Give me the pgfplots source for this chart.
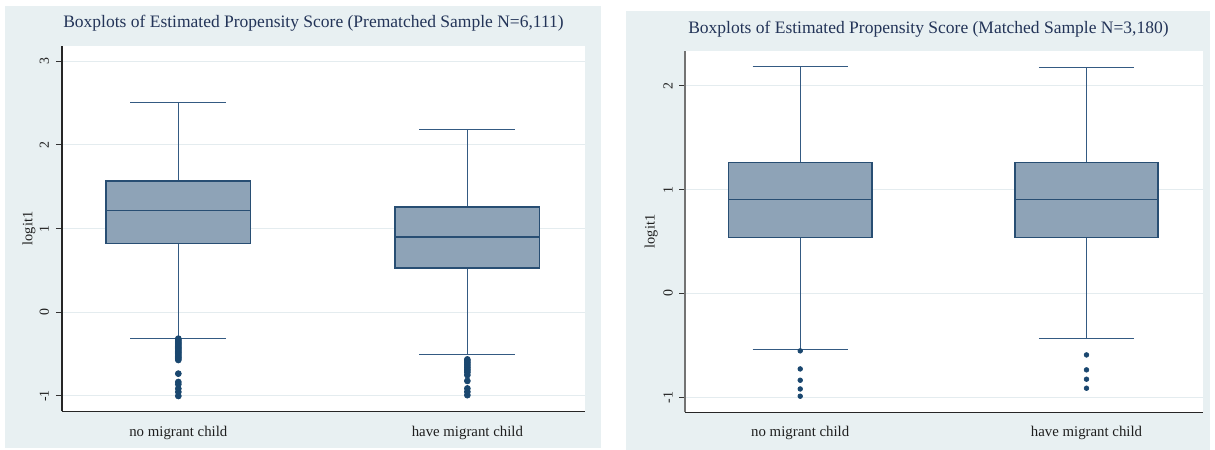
\documentclass[border=0pt]{standalone}
\usepackage{fontspec}
\setmainfont{Liberation Serif}
\usepackage{pgfplots}
\pgfplotsset{compat=1.18}
\usepgfplotslibrary{statistics}
\definecolor{panelbg}{RGB}{232,240,242}
\definecolor{gridc}{RGB}{228,236,239}
\definecolor{boxfill}{RGB}{142,163,183}
\definecolor{boxedge}{RGB}{40,78,115}
\definecolor{whisk}{RGB}{52,90,130}
\definecolor{mk}{RGB}{26,71,111}
\definecolor{titlec}{RGB}{35,52,88}
\definecolor{txt}{RGB}{30,30,30}
\pgfplotsset{
  stbox/.style={
    scale only axis,
    anchor=south west,
    axis background/.style={fill=white},
    axis x line*=bottom, axis y line*=left,
    x axis line style={line width=0.9pt, draw=black!85},
    xmin=0.5975, xmax=2.407,
    xtick={1,2},
    xticklabels={no migrant child, have migrant child},
    xtick style={draw=none},
    xticklabel style={anchor=base, font=\fontsize{8.9}{10}\selectfont, text=txt},
    ytick style={line width=0.6pt, draw=black!80},
    tick align=outside,
    major tick length=3.6pt,
    yticklabel style={rotate=90, anchor=center, font=\fontsize{8.3}{10}\selectfont, text=txt},
    /pgf/number format/assume math mode=true,
    ymajorgrids,
    major grid style={draw=gridc, line width=0.6pt},
    ylabel={logit1},
    ylabel style={rotate=0, anchor=center, font=\fontsize{8.6}{10}\selectfont, text=txt},
    title style={anchor=base, font=\fontsize{10.5}{12}\selectfont, text=titlec},
    boxplot/draw direction=y,
    boxplot/box extend=0.5,
    boxplot/whisker extend=0.333,
    boxplot/every box/.style={fill=boxfill, draw=boxedge, line width=1pt},
    boxplot/every median/.style={draw=boxedge, line width=1pt},
    boxplot/every whisker/.style={draw=whisk, line width=0.7pt},
    clip=false,
  },
  stplot/.style={draw=whisk, solid, mark=*, mark options={fill=mk, draw=mk, solid}},
}
\begin{document}
\begin{tikzpicture}
\fill[white] (0,0) rectangle (729pt,270pt);
\fill[panelbg] (3pt,1.2pt) rectangle (360.6pt,266.4pt);
\fill[panelbg] (375.6pt,0pt) rectangle (726pt,263.4pt);

\begin{axis}[stbox,
  at={(37.2pt,23.22pt)}, width=313.8pt, height=219.36pt,
  ymin=-1.183, ymax=3.186, ytick={-1,0,1,2,3},
  y axis line style={line width=0.9pt, draw=black!85},
  xticklabel shift=11.5pt,
  yticklabel shift=7pt,
  ylabel style={at={(axis description cs:-0.0631,0.5)}},
  title={Boxplots of Estimated Propensity Score (Prematched Sample N=6,111)},
  title style={at={(axis description cs:0.4809,1)}, yshift=5pt},
]
\addplot[stplot, mark size=1.8pt, boxplot prepared={draw position=1,
  lower whisker=-0.315, lower quartile=0.822, median=1.218,
  upper quartile=1.573, upper whisker=2.507}]
  table[row sep=\\, y index=0] {
  -0.315\\ -0.33\\ -0.345\\ -0.36\\ -0.375\\ -0.39\\ -0.405\\ -0.42\\ -0.435\\
  -0.45\\ -0.465\\ -0.48\\ -0.495\\ -0.51\\ -0.525\\ -0.54\\ -0.555\\ -0.57\\
  -0.733\\ -0.833\\ -0.86\\ -0.912\\ -0.952\\ -1.0\\};
\addplot[stplot, mark size=1.8pt, boxplot prepared={draw position=2,
  lower whisker=-0.507, lower quartile=0.531, median=0.902,
  upper quartile=1.257, upper whisker=2.18}]
  table[row sep=\\, y index=0] {
  -0.563\\ -0.58\\ -0.60\\ -0.62\\ -0.64\\ -0.66\\ -0.68\\ -0.70\\ -0.72\\
  -0.75\\ -0.82\\ -0.91\\ -0.95\\ -0.99\\};
\end{axis}

\begin{axis}[stbox,
  at={(411pt,22.62pt)}, width=310.8pt, height=216.96pt,
  ymin=-1.145, ymax=2.34, ytick={-1,0,1,2},
  y axis line style={line width=0.9pt, draw=black!55},
  xticklabel shift=10.9pt,
  yticklabel shift=6.5pt,
  ylabel style={at={(axis description cs:-0.0651,0.5)}},
  title={Boxplots of Estimated Propensity Score (Matched Sample N=3,180)},
  title style={at={(axis description cs:0.470,1)}, yshift=4.4pt},
]
\addplot[stplot, mark size=1.4pt, boxplot prepared={draw position=1,
  lower whisker=-0.540, lower quartile=0.540, median=0.907,
  upper quartile=1.264, upper whisker=2.19}]
  table[row sep=\\, y index=0] {
  -0.553\\ -0.727\\ -0.836\\ -0.920\\ -0.990\\};
\addplot[stplot, mark size=1.4pt, boxplot prepared={draw position=2,
  lower whisker=-0.434, lower quartile=0.540, median=0.907,
  upper quartile=1.264, upper whisker=2.18}]
  table[row sep=\\, y index=0] {
  -0.592\\ -0.736\\ -0.826\\ -0.913\\};
\end{axis}
\end{tikzpicture}
\end{document}
